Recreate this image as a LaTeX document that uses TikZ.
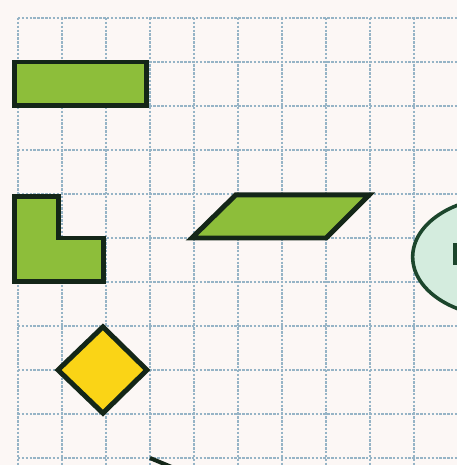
\documentclass[tikz,border=0pt]{standalone}
\definecolor{paper}{RGB}{252,247,245}
\definecolor{gridc}{RGB}{150,180,198}
\definecolor{colG}{RGB}{141,190,58}
\definecolor{colY}{RGB}{250,212,22}
\definecolor{colM}{RGB}{212,236,222}
\definecolor{colD}{RGB}{20,38,24}
\definecolor{colE}{RGB}{28,70,44}
\tikzstyle{gridline}=[gridc, line width=0.8pt, dash pattern=on 1.6pt off 0.9pt]
\tikzstyle{piece}=[line width=3.2pt, draw=colD, line join=miter]
\tikzstyle{gpiece}=[piece, fill=colG]
\tikzstyle{ypiece}=[piece, fill=colY]
\tikzstyle{epiece}=[line width=2.3pt, draw=colE, fill=colM]

\begin{document}
\begin{tikzpicture}[x=1cm, y=-1cm]
			\useasboundingbox (-0.409,-0.409) rectangle (9.977,10.159);
			\fill[paper] (-0.409,-0.409) rectangle (9.977,10.159);
			\clip (-0.409,-0.409) rectangle (9.977,10.159);
			\foreach \i in {0,...,9} \draw[gridline] (\i,0) -- (\i,10.159);
			\foreach \j in {0,...,10} \draw[gridline] (0,\j) -- (9.977,\j);
			% bar, L and slanted piece
			\draw[gpiece] (-0.08,1) rectangle (2.93,1.98);
			\draw[gpiece] (-0.09,4.05) -- (0.93,4.05) -- (0.93,5.0) -- (1.95,5.0) -- (1.95,5.98) -- (-0.09,5.98) -- cycle;
			\draw[gpiece] (3.95,5.0) -- (4.95,4.02) -- (7.98,4.02) -- (7.0,5.0) -- cycle;
			% square on its tip
			\draw[ypiece] (1.93,7.02) -- (2.93,8.0) -- (1.93,8.98) -- (0.91,8.0) -- cycle;
			% pieces cut off at the edges
			\draw[epiece] (11.02,5.43) ellipse (2.05 and 1.36);
			\fill[colE] (9.89,5.11) rectangle (10.1,5.61);
			\draw[piece, line width=2.6pt] (3.0,10.0) -- (3.6,10.25);
		\end{tikzpicture}
\end{document}
